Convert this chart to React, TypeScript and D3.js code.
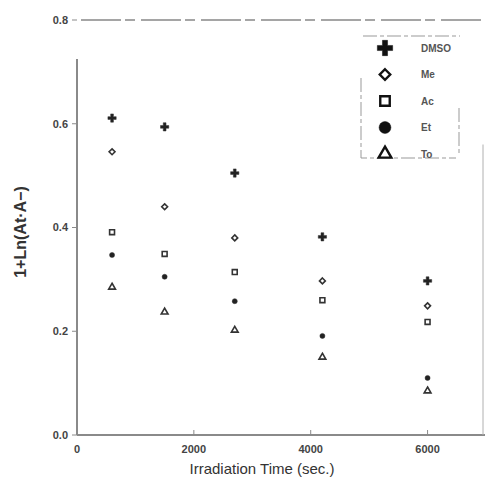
import React, { useEffect, useRef } from "react";
import * as d3 from "d3";

const times = [600, 1500, 2700, 4200, 6000];
const seriesNames = ["DMSO", "Me", "Ac", "Et", "To"];
const dmso = [0.611, 0.594, 0.505, 0.382, 0.297];
const me = [0.546, 0.44, 0.38, 0.297, 0.249];
const ac = [0.391, 0.349, 0.314, 0.26, 0.218];
const et = [0.347, 0.305, 0.258, 0.191, 0.11];
const to = [0.285, 0.237, 0.202, 0.15, 0.085];
const xTicks = [0, 2000, 4000, 6000];
const yTicks = [0, 0.2, 0.4, 0.6, 0.8];

const W = 485;
const H = 483;

const symbolFor = (name: string) =>
  ({
    DMSO: d3.symbolCross,
    Me: d3.symbolDiamond2,
    Ac: d3.symbolSquare,
    Et: d3.symbolCircle,
    To: d3.symbolTriangle,
  } as any)[name];

const filled = (name: string) => name === "DMSO" || name === "Et";

const App = () => {
  const svgRef = useRef<SVGSVGElement>(null);

  useEffect(() => {
    const svg = d3.select(svgRef.current);
    svg.selectAll("*").remove();

    const x = d3.scaleLinear().domain([0, 7000]).range([77, 486]);
    const y = d3.scaleLinear().domain([0, 0.8]).range([435, 20]);
    const axisColor = "#8a8a8a";
    const font = "Liberation Sans, Arial, sans-serif";

    svg.append("rect").attr("width", W).attr("height", H).attr("fill", "#fff");

    // frame lines (scan looks broken, keep them light)
    svg
      .append("line")
      .attr("x1", x(0) + 4)
      .attr("x2", W)
      .attr("y1", y(0.8))
      .attr("y2", y(0.8))
      .attr("stroke", "#888")
      .attr("stroke-width", 1.5)
      .attr("stroke-dasharray", "40 4 10 6");
    svg
      .append("line")
      .attr("x1", x(0))
      .attr("x2", x(0))
      .attr("y1", y(0.725))
      .attr("y2", y(0))
      .attr("stroke", axisColor)
      .attr("stroke-width", 2);
    svg
      .append("line")
      .attr("x1", x(0))
      .attr("x2", W)
      .attr("y1", y(0))
      .attr("y2", y(0))
      .attr("stroke", axisColor)
      .attr("stroke-width", 2);
    svg
      .append("line")
      .attr("x1", W - 2)
      .attr("x2", W - 2)
      .attr("y1", y(0.56))
      .attr("y2", y(0))
      .attr("stroke", "#b0b0b0")
      .attr("stroke-width", 1);

    // y ticks
    const yg = svg.append("g");
    yTicks.forEach((t) => {
      yg.append("line")
        .attr("x1", x(0) - 5)
        .attr("x2", x(0))
        .attr("y1", y(t))
        .attr("y2", y(t))
        .attr("stroke", axisColor);
      yg.append("text")
        .attr("x", x(0) - 9)
        .attr("y", y(t))
        .attr("dy", "0.35em")
        .attr("text-anchor", "end")
        .attr("font-family", font)
        .attr("font-size", 11)
        .attr("font-weight", "bold")
        .attr("fill", "#444")
        .text(t.toFixed(1));
    });

    // x ticks
    const xg = svg.append("g");
    xTicks.forEach((t) => {
      if (t > 0)
        xg.append("line")
          .attr("x1", x(t))
          .attr("x2", x(t))
          .attr("y1", y(0) - 5)
          .attr("y2", y(0))
          .attr("stroke", axisColor);
      xg.append("text")
        .attr("x", x(t))
        .attr("y", y(0) + 18)
        .attr("text-anchor", "middle")
        .attr("font-family", font)
        .attr("font-size", 11)
        .attr("font-weight", "bold")
        .attr("fill", "#444")
        .text(t);
    });

    // axis titles
    svg
      .append("text")
      .attr("x", 262)
      .attr("y", 474)
      .attr("text-anchor", "middle")
      .attr("font-family", font)
      .attr("font-size", 15)
      .attr("fill", "#333")
      .text("Irradiation Time (sec.)");
    svg
      .append("text")
      .attr("transform", `translate(26,${232}) rotate(-90)`)
      .attr("text-anchor", "middle")
      .attr("font-family", font)
      .attr("font-size", 16)
      .attr("font-weight", "bold")
      .attr("fill", "#333")
      .text("1+Ln(At·A−)");

    // data
    const allSeries = [dmso, me, ac, et, to];
    const sizes: any = { DMSO: 38, Me: 22, Ac: 24, Et: 20, To: 20 };
    allSeries.forEach((vals, si) => {
      const name = seriesNames[si];
      svg
        .append("g")
        .selectAll("path")
        .data(vals)
        .join("path")
        .attr("transform", (d, i) => `translate(${x(times[i])},${y(d)})`)
        .attr("d", d3.symbol().type(symbolFor(name)).size(sizes[name]) as any)
        .attr("fill", filled(name) ? "#222" : "none")
        .attr("stroke", "#333")
        .attr("stroke-width", filled(name) ? 0.5 : 1.6);
    });

    // legend
    const lg = svg.append("g");
    lg.append("path")
      .attr("d", "M363,36 H460 M361,78 V158 H456 M459,108 V156")
      .attr("fill", "none")
      .attr("stroke", "#999")
      .attr("stroke-width", 1)
      .attr("stroke-dasharray", "14 3 4 3");
    const legendSizes: any = { DMSO: 130, Me: 70, Ac: 90, Et: 110, To: 70 };
    seriesNames.forEach((name, i) => {
      const ly = 48 + i * 26.5;
      lg.append("path")
        .attr("transform", `translate(385,${ly})`)
        .attr(
          "d",
          d3.symbol().type(symbolFor(name)).size(legendSizes[name]) as any
        )
        .attr("fill", filled(name) ? "#111" : "none")
        .attr("stroke", "#111")
        .attr("stroke-width", filled(name) ? 0.5 : 2.4);
      lg.append("text")
        .attr("x", 421)
        .attr("y", ly)
        .attr("dy", "0.35em")
        .attr("font-family", font)
        .attr("font-size", 10)
        .attr("font-weight", "bold")
        .attr("fill", "#555")
        .text(name);
    });
  }, []);

  return (
    <svg
      ref={svgRef}
      width={W}
      height={H}
      style={{ position: "absolute", left: 0, top: 0 }}
    />
  );
};

export default App;
